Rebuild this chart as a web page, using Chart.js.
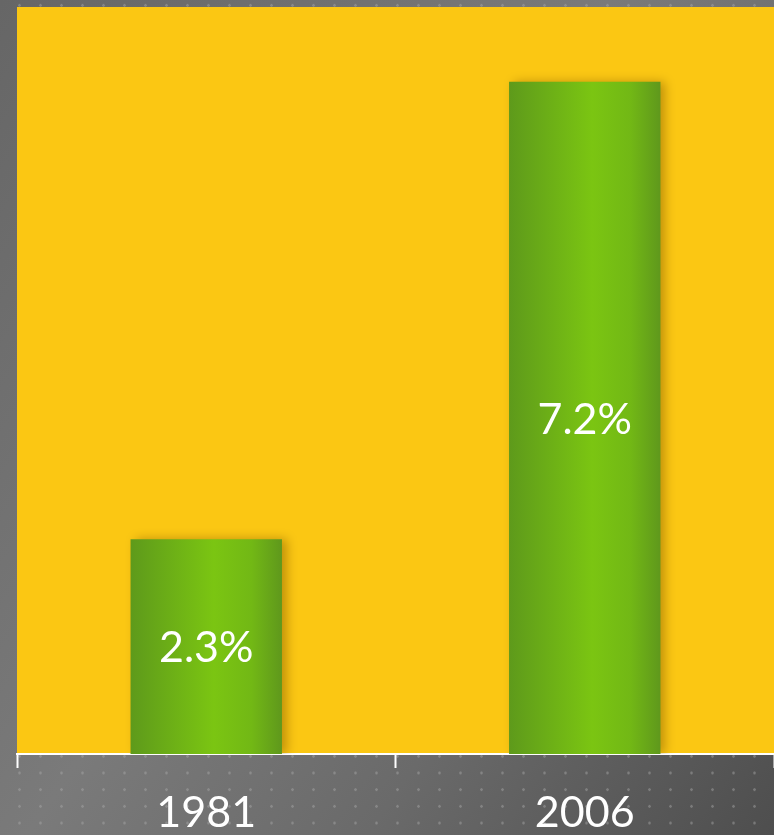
<!DOCTYPE html>
<html>
<head>
<meta charset="utf-8">
<script src="https://cdn.jsdelivr.net/npm/chart.js@4/dist/chart.umd.min.js"></script>
<style>
  html, body { margin: 0; padding: 0; }
  body {
    width: 774px; height: 835px; overflow: hidden;
    background:
      radial-gradient(circle, rgba(170,170,170,0.45) 1px, transparent 1.6px) 9px -3px / 21px 16.7px,
      linear-gradient(125deg, #666 0%, #7a7a7a 45%, #6a6a6a 70%, #4e4e4e 100%);
  }
  #wrap { position: relative; width: 774px; height: 835px; }
</style>
</head>
<body>
<div id="wrap"><canvas id="chart" width="774" height="835"></canvas></div>
<script>
const years = ['1981', '2006'];
const shares = [2.3, 7.2];
const valueLabels = ['2.3%', '7.2%'];

const font = "Lato, 'Open Sans', sans-serif";

// yellow plot background
const areaFill = {
  id: 'areaFill',
  beforeDraw(chart) {
    const { ctx, chartArea: a } = chart;
    ctx.save();
    ctx.fillStyle = '#fbc713';
    ctx.fillRect(a.left, a.top, a.right - a.left, a.bottom - a.top);
    ctx.restore();
  }
};

const barShadow = {
  id: 'barShadow',
  beforeDatasetsDraw(chart) {
    const ctx = chart.ctx;
    ctx.save();
    ctx.shadowColor = 'rgba(120,80,0,0.45)';
    ctx.shadowBlur = 10;
    ctx.shadowOffsetX = 5;
    ctx.shadowOffsetY = 0;
  },
  afterDatasetsDraw(chart) {
    chart.ctx.restore();
  }
};

const inLabels = {
  id: 'inLabels',
  afterDatasetsDraw(chart) {
    const { ctx } = chart;
    const meta = chart.getDatasetMeta(0);
    ctx.save();
    ctx.fillStyle = '#ffffff';
    ctx.font = '43px ' + font;
    ctx.textAlign = 'center';
    ctx.textBaseline = 'middle';
    meta.data.forEach((bar, i) => {
      ctx.fillText(valueLabels[i], bar.x, (bar.y + bar.base) / 2 + 2);
    });
    ctx.restore();
  }
};

function barGradient(c) {
  const chart = c.chart;
  const xs = chart.scales.x;
  if (!xs || !chart.chartArea) return '#74be14';
  const cx = xs.getPixelForValue(c.dataIndex);
  const w = (xs.width / years.length) * 0.4;
  const g = chart.ctx.createLinearGradient(cx - w / 2, 0, cx + w / 2, 0);
  g.addColorStop(0, '#5e9a1b');
  g.addColorStop(0.55, '#7bc512');
  g.addColorStop(0.8, '#72b815');
  g.addColorStop(1, '#5f981c');
  return g;
}

new Chart(document.getElementById('chart'), {
  type: 'bar',
  data: {
    labels: years,
    datasets: [{
      data: shares,
      backgroundColor: barGradient,
      borderWidth: 0,
      barPercentage: 0.4,
      categoryPercentage: 1
    }]
  },
  options: {
    responsive: false,
    animation: false,
    devicePixelRatio: 1,
    layout: { padding: { left: 17, top: 7, right: 0, bottom: 0 } },
    plugins: { legend: { display: false }, tooltip: { enabled: false } },
    scales: {
      x: {
        offset: true,
        afterFit(scale) { scale.height = 81; },
        border: { display: true, color: '#ffffff', width: 2 },
        grid: {
          offset: true,
          drawOnChartArea: false,
          drawTicks: true,
          tickLength: 14,
          tickWidth: 2,
          color: '#ffffff'
        },
        ticks: {
          color: '#ffffff',
          font: { family: font, size: 43 },
          padding: 19,
          maxRotation: 0
        }
      },
      y: {
        display: false,
        min: 0,
        max: 8
      }
    }
  },
  plugins: [areaFill, barShadow, inLabels]
});
</script>
</body>
</html>
